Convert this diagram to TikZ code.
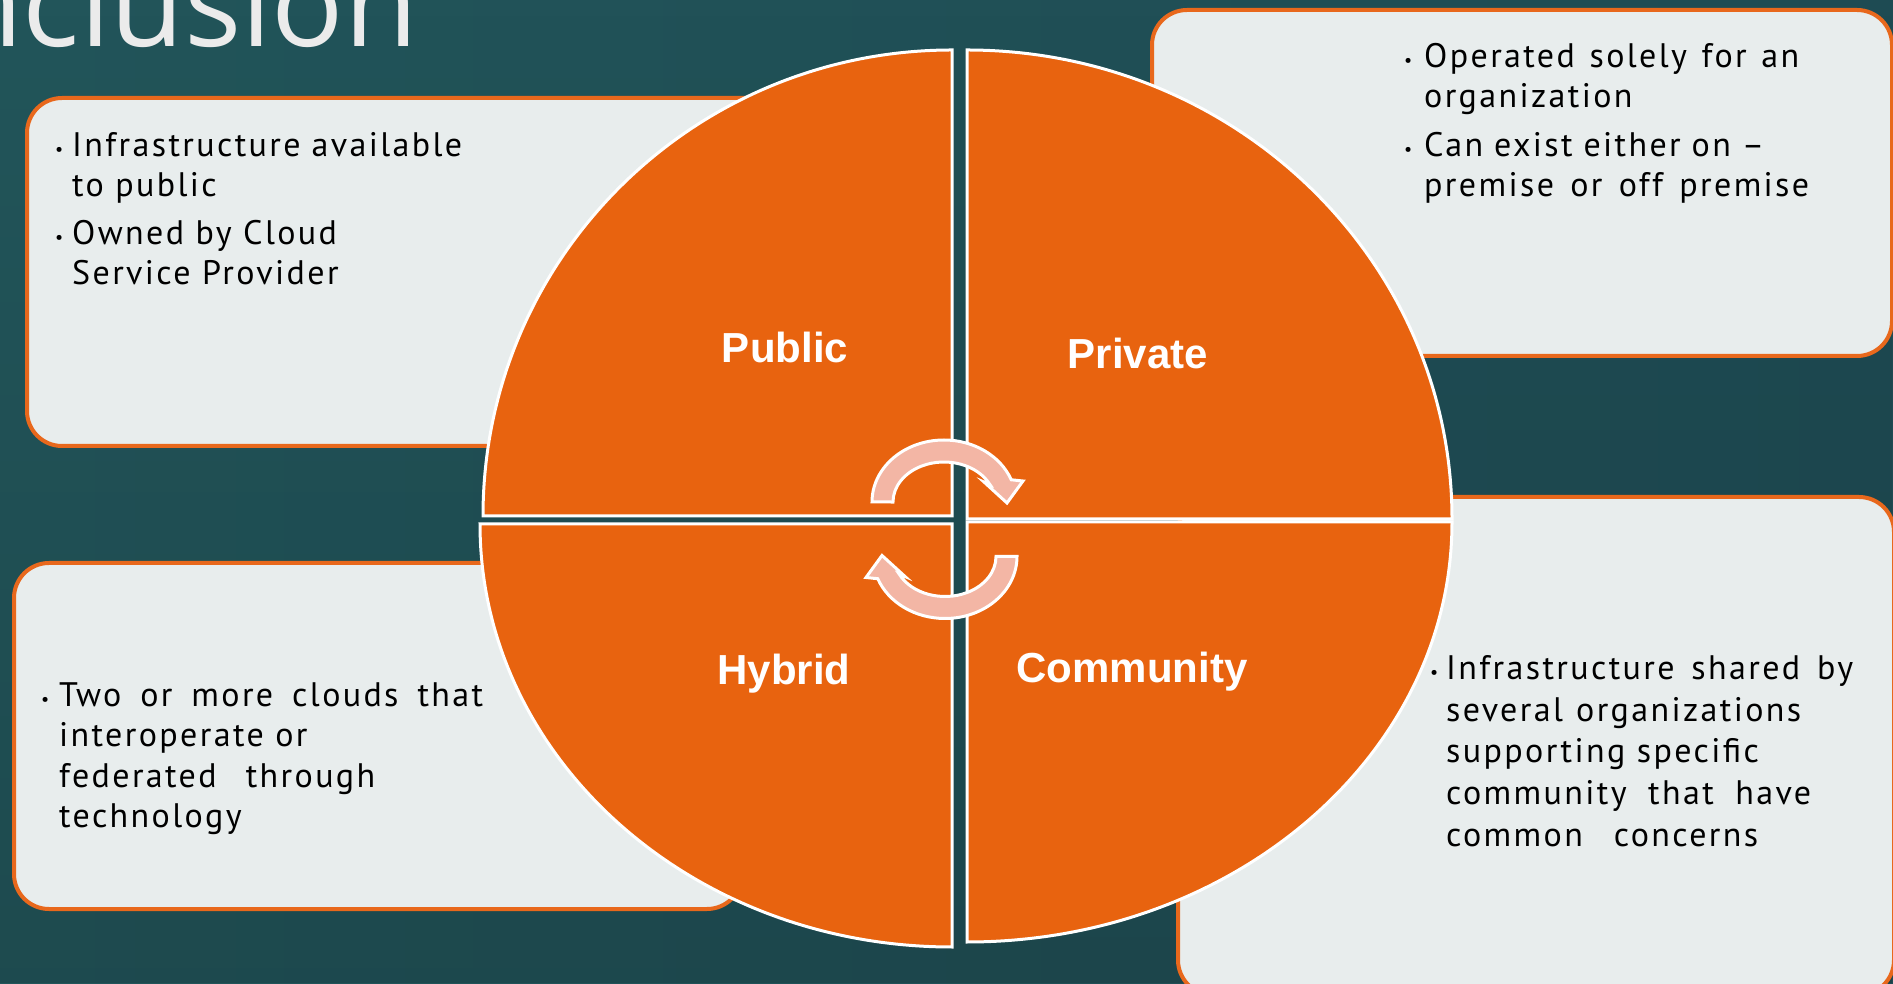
\documentclass[tikz,border=0pt]{standalone}
\usepackage{fontspec}
\setmainfont{PT Sans}
\newfontfamily\titlefont{Open Sans}
\newfontfamily\labelfont{Liberation Sans}
\newfontfamily\bodyfont[LetterSpace=7]{PT Sans}
\usetikzlibrary{fadings}
\definecolor{bgA}{HTML}{22555A}
\definecolor{bgB}{HTML}{3C786C}
\definecolor{bgC}{HTML}{1E4B53}
\definecolor{pieor}{HTML}{E8630F}
\definecolor{boxfill}{HTML}{E8EDED}
\definecolor{boxline}{HTML}{E8681C}
\definecolor{arrpink}{HTML}{F3B6A5}
\definecolor{titlegrey}{HTML}{EBEBEB}
\newcommand\mybul[1]{\llap{\fontsize{18}{18}\selectfont\raisebox{1pt}{•}\hspace{#1}}}
\newcommand\jline[2]{\makebox[#1pt][s]{#2}}
\begin{document}
\begin{tikzpicture}[x=1pt,y=1pt,
  infobox/.style={draw=boxline, line width=4pt, fill=boxfill, rounded corners=35pt},
  quad/.style={fill=pieor, draw=white, line width=3pt, line join=miter},
  qlabel/.style={text=white, font=\labelfont\bfseries\fontsize{42}{42}\selectfont, inner sep=0pt, anchor=base},
  bodyline/.style={anchor=base west, inner sep=0pt, font=\bodyfont\fontsize{34}{40}\selectfont, text=black},
  cycarrow/.style={fill=arrpink, draw=white, line width=3pt, line join=miter}]
\useasboundingbox (0,0) rectangle (1893,983);
% background
\fill[left color=bgA, middle color=bgB, right color=bgC] (0,0) rectangle (1893,983);
\fill[black, opacity=0.12, path fading=north] (0,0) rectangle (1893,983);
% title
\node[anchor=base east, inner sep=0pt, text=titlegrey, font=\titlefont\fontsize{120}{120}\selectfont] (title) at (418,936) {Conclusion};
% boxes
\draw[infobox] (27,537) rectangle (900,885);
\draw[infobox] (1152,627) rectangle (1892,973);
\draw[infobox] (14,74) rectangle (742,420);
\draw[infobox] (1178,-12) rectangle (1894,486);
% pie quadrants
\draw[quad] (952,467) -- ++(0,466) arc[start angle=90, end angle=180, x radius=469pt, y radius=466pt] -- cycle;
\draw[quad] (967,464) -- ++(485,0) arc[start angle=0, end angle=90, x radius=485pt, y radius=469pt] -- cycle;
\draw[quad] (952,459) -- ++(-472,0) arc[start angle=180, end angle=270, x radius=472pt, y radius=423pt] -- cycle;
\draw[quad] (967,461) -- ++(0,-420) arc[start angle=270, end angle=360, x radius=485pt, y radius=420pt] -- cycle;
% cycle arrows
\draw[cycarrow] (872,481) arc[start angle=180, end angle=21, x radius=72pt, y radius=62pt]
  -- (1023,502) -- (1007,480) -- (984,501) -- (989.84,498.53)
  arc[start angle=26, end angle=180, x radius=51pt, y radius=40pt] -- cycle;
\begin{scope}[rotate around={180:(944.5,453.75)}]
\draw[cycarrow] (872,481) arc[start angle=180, end angle=21, x radius=72pt, y radius=62pt]
  -- (1023,502) -- (1007,480) -- (984,501) -- (989.84,498.53)
  arc[start angle=26, end angle=180, x radius=51pt, y radius=40pt] -- cycle;
\end{scope}
% quadrant labels
\node[qlabel] (pub) at (785,620) {Public};
\node[qlabel] (pri) at (1138,614) {Private};
\node[qlabel] (hyb) at (784,298) {Hybrid};
\node[qlabel] (com) at (1132,300) {Community};
% top-left text
\node[bodyline] (tl1) at (72,826) {\mybul{9pt}\jline{390}{Infrastructure available}};
\node[bodyline] (tl2) at (72,786) {to public};
\node[bodyline] (tl3) at (72,738) {\mybul{9pt}Owned by Cloud};
\node[bodyline] (tl4) at (72,698) {Service Provider};
% top-right text
\node[bodyline] (tr1) at (1424,915) {\mybul{12pt}\jline{375}{Operated solely for an}};
\node[bodyline] (tr2) at (1424,875) {organization};
\node[bodyline] (tr3) at (1424,826) {\mybul{12pt}\jline{340}{Can exist either on –}};
\node[bodyline] (tr4) at (1424,786) {\jline{385}{premise or off premise}};
% bottom-left text
\node[bodyline] (bl1) at (59,276) {\mybul{10pt}\jline{424}{Two or more clouds that}};
\node[bodyline] (bl2) at (59,236) {interoperate or};
\node[bodyline] (bl3) at (59,195) {\jline{316}{federated through}};
\node[bodyline] (bl4) at (59,155) {technology};
% bottom-right text
\node[bodyline] (br1) at (1446,303) {\mybul{8pt}\jline{407}{Infrastructure shared by}};
\node[bodyline] (br2) at (1446,261) {\jline{355}{several organizations}};
\node[bodyline] (br3) at (1446,220) {supporting specific};
\node[bodyline] (br4) at (1446,178) {\jline{365}{community that have}};
\node[bodyline] (br5) at (1446,136) {\jline{312}{common concerns}};
\end{tikzpicture}
\end{document}
